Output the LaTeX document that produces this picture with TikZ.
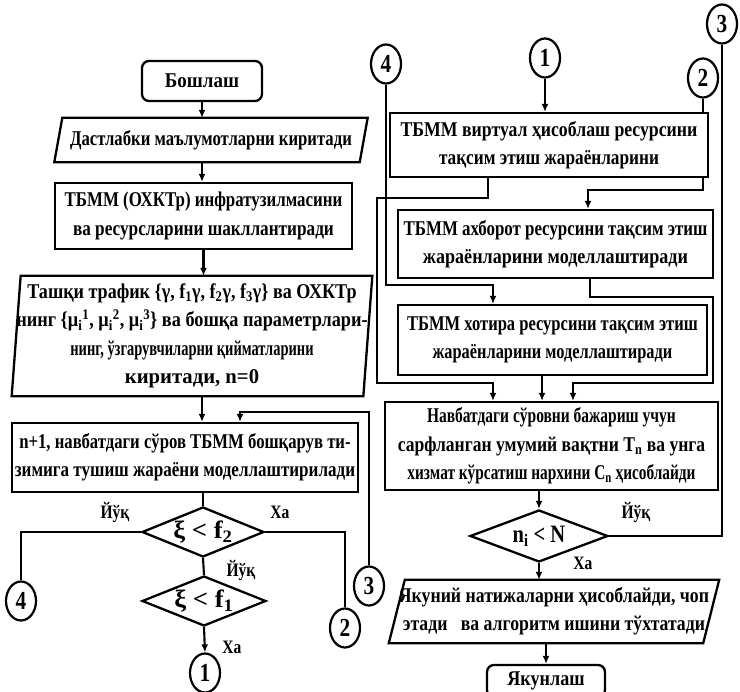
\documentclass[tikz,border=0pt]{standalone}
\usepackage{fontspec}
\usepackage{graphicx}
\setmainfont{Liberation Serif}[FakeStretch=0.82]
\usetikzlibrary{shapes.geometric,arrows.meta,backgrounds}
\newcommand\sx[2]{\scalebox{#1}[1]{#2}}
\begin{document}
\begin{tikzpicture}[x=1pt,y=-1pt,
  txt/.style={font=\bfseries\fontsize{21}{28.5}\selectfont, align=center, inner sep=0pt},
  box/.style={txt, draw, line width=2.3pt, fill=white},
  rbox/.style={box, rounded corners=7pt},
  para/.style={txt},
  pline/.style={line width=2.3pt, line join=miter},
  dia/.style={diamond, aspect=2.5, draw, line width=2.3pt, fill=white, inner sep=0pt,
     font=\bfseries\fontsize{25}{25}\selectfont},
  conn/.style={ellipse, draw, line width=2.2pt, fill=white, inner sep=0pt,
     minimum width=30pt, minimum height=39pt, font=\bfseries\fontsize{26}{26}\selectfont},
  lab/.style={font=\bfseries\fontsize{19}{19}\selectfont, inner sep=0pt},
  ln/.style={line width=2.1pt},
  arr/.style={line width=2.1pt, -{Latex[length=8pt,width=7pt]}}
]
\useasboundingbox (0,0) rectangle (740,692);
\clip (0,0) rectangle (740,692);

% ---------- left column ----------
\node[rbox, minimum width=120pt, minimum height=40pt] (start) at (202,81) {\sx{1.1}{Бошлаш}};
\node[para, minimum width=305pt, minimum height=44pt] (inp1) at (211,140) {\sx{0.97}{Дастлабки маълумотларни киритади}};
\draw[pline] ([xshift=4pt]inp1.north west) -- ([xshift=4pt]inp1.north east) -- ([xshift=-4pt]inp1.south east) -- ([xshift=-4pt]inp1.south west) -- cycle;
\node[box, minimum width=297pt, minimum height=66pt] (infra) at (203.5,216) {\sx{0.98}{ТБММ (ОХКТр) инфратузилмасини}\\ва ресурсларини шакллантиради};
\node[para, minimum width=347pt, minimum height=120pt] (traf) at (192,336) {\sx{1.05}{Ташқи трафик \{γ, f\textsubscript{1}γ, f\textsubscript{2}γ, f\textsubscript{3}γ\} ва ОХКТр}\\
\sx{1.06}{нинг \{μ\textsubscript{i}\textsuperscript{1}, μ\textsubscript{i}\textsuperscript{2}, μ\textsubscript{i}\textsuperscript{3}\} ва бошқа параметрлари-}\\
\sx{0.84}{нинг, ўзгарувчиларни қийматларини}\\\sx{1.2}{киритади, n=0}};
\draw[pline] ([xshift=4.5pt]traf.north west) -- ([xshift=4.5pt]traf.north east) -- ([xshift=-4.5pt]traf.south east) -- ([xshift=-4.5pt]traf.south west) -- cycle;
\node[box, minimum width=346pt, minimum height=69pt] (req) at (185,457.5) {\sx{0.97}{n+1, навбатдаги сўров ТБММ бошқарув ти-}\\\sx{0.99}{зимига тушиш жараёни моделлаштирилади}};
\node[dia, minimum width=122pt, minimum height=50pt] (d2) at (203,532) {\sx{1.3}{ξ < f\textsubscript{2}}};
\node[dia, minimum width=124pt, minimum height=50pt] (d1) at (204,601) {\sx{1.3}{ξ < f\textsubscript{1}}};
\node[conn] (c4L) at (21,601) {4};
\node[conn] (c3L) at (369,586) {3};
\node[conn] (c2L) at (345,628) {2};
\node[conn] (c1L) at (205,673) {1};
\node[lab] (l1) at (115,512) {Йўқ};
\node[lab] (l2) at (280,512) {Ха};
\node[lab] (l3) at (241,570) {Йўқ};
\node[lab] (l4) at (232,647) {Ха};

% ---------- right column ----------
\node[conn] (c4R) at (386,64) {4};
\node[conn] (c1R) at (545,58) {1};
\node[conn] (c2R) at (703,78) {2};
\node[conn] (c3R) at (722,24) {3};
\node[box, minimum width=318pt, minimum height=64pt] (r1) at (549,145) {\sx{1.03}{ТБММ виртуал ҳисоблаш ресурсини}\\тақсим этиш жараёнларини};
\node[box, minimum width=315pt, minimum height=68pt] (r2) at (555.5,244) {\sx{0.98}{ТБММ ахборот ресурсини тақсим этиш}\\\sx{1.05}{жараёнларини моделлаштиради}};
\node[box, minimum width=309pt, minimum height=70pt] (r3) at (552.5,340) {\sx{0.96}{ТБММ хотира ресурсини тақсим этиш}\\\sx{0.95}{жараёнларини моделлаштиради}};
\node[box, minimum width=333pt, minimum height=88pt] (r4) at (551.5,446) {\sx{0.9}{Навбатдаги сўровни бажариш учун}\\\sx{1.02}{сарфланган умумий вақтни T\textsubscript{n} ва унга}\\\sx{0.89}{хизмат кўрсатиш нархини C\textsubscript{n} ҳисоблайди}};
\node[dia, minimum width=138pt, minimum height=52pt] (dN) at (539,536) {n\textsubscript{i} < N};
\node[para, minimum width=314pt, minimum height=63pt] (fin) at (554,611.5) {\sx{1.03}{Якуний натижаларни ҳисоблайди, чоп}\\\sx{1.03}{этади \ \ ва алгоритм ишини тўхтатади}};
\draw[pline] ([xshift=8pt]fin.north west) -- ([xshift=8pt]fin.north east) -- ([xshift=-8pt]fin.south east) -- ([xshift=-8pt]fin.south west) -- cycle;
\node[rbox, minimum width=118pt, minimum height=32pt] (end) at (546,681) {\sx{1.05}{Якунлаш}};
\node[lab] (l5) at (636,512) {Йўқ};
\node[lab] (l6) at (583,563) {Ха};

% ---------- connectors ----------
\coordinate (j3) at (240,412);
\coordinate (k2) at (588,190);
\coordinate (k4) at (493,285);
\coordinate (a1) at (488,198);
\coordinate (b1) at (377,383);
\coordinate (k5) at (493,383);
\coordinate (a2) at (590,297);
\coordinate (b2) at (713,383);
\coordinate (k6) at (573,383);
\coordinate (k7) at (542,390);
\begin{pgfonlayer}{background}
\draw[arr] (start.south) -- (start.south |- inp1.north);
\draw[arr] (start.south |- inp1.south) -- (start.south |- infra.north);
\draw[arr] (infra.south) -- (infra.south |- traf.north);
\draw[arr] (start.south |- traf.south) -- (start.south |- req.north);
\draw[arr] (c3L.north) |- (j3) -- (j3 |- req.north);
\draw[ln] (d2.north |- req.south) -- (d2.north);
\draw[ln] (d2.west) -| (c4L.north);
\draw[ln] (d2.east) -| (c2L.north);
\draw[ln] (d2.south) -- (d1.north);
\draw[arr] (d1.south) -- (c1L.north);

\draw[arr] (c1R.south) -- (c1R.south |- r1.north);
\draw[arr] (c2R.south) |- (k2) -- (k2 |- r2.north);
\draw[arr] (c4R.south) |- (k4) -- (k4 |- r3.north);
\draw[arr] (a1 |- r1.south) -- (a1) -| (b1) -- (k5) -- (k5 |- r4.north);
\draw[arr] (a2 |- r2.south) -- (a2) -| (b2) -- (k6) -- (k6 |- r4.north);
\draw[arr] (k7 |- r3.south) -- (k7 |- r4.north);
\draw[arr] (dN.north |- r4.south) -- (dN.north);
\draw[arr] (dN.south) -- (dN.south |- fin.north);
\draw[arr] (end.north |- fin.south) -- (end.north);
\draw[ln] (dN.east) -| (c3R.south);
\end{pgfonlayer}
\end{tikzpicture}
\end{document}
